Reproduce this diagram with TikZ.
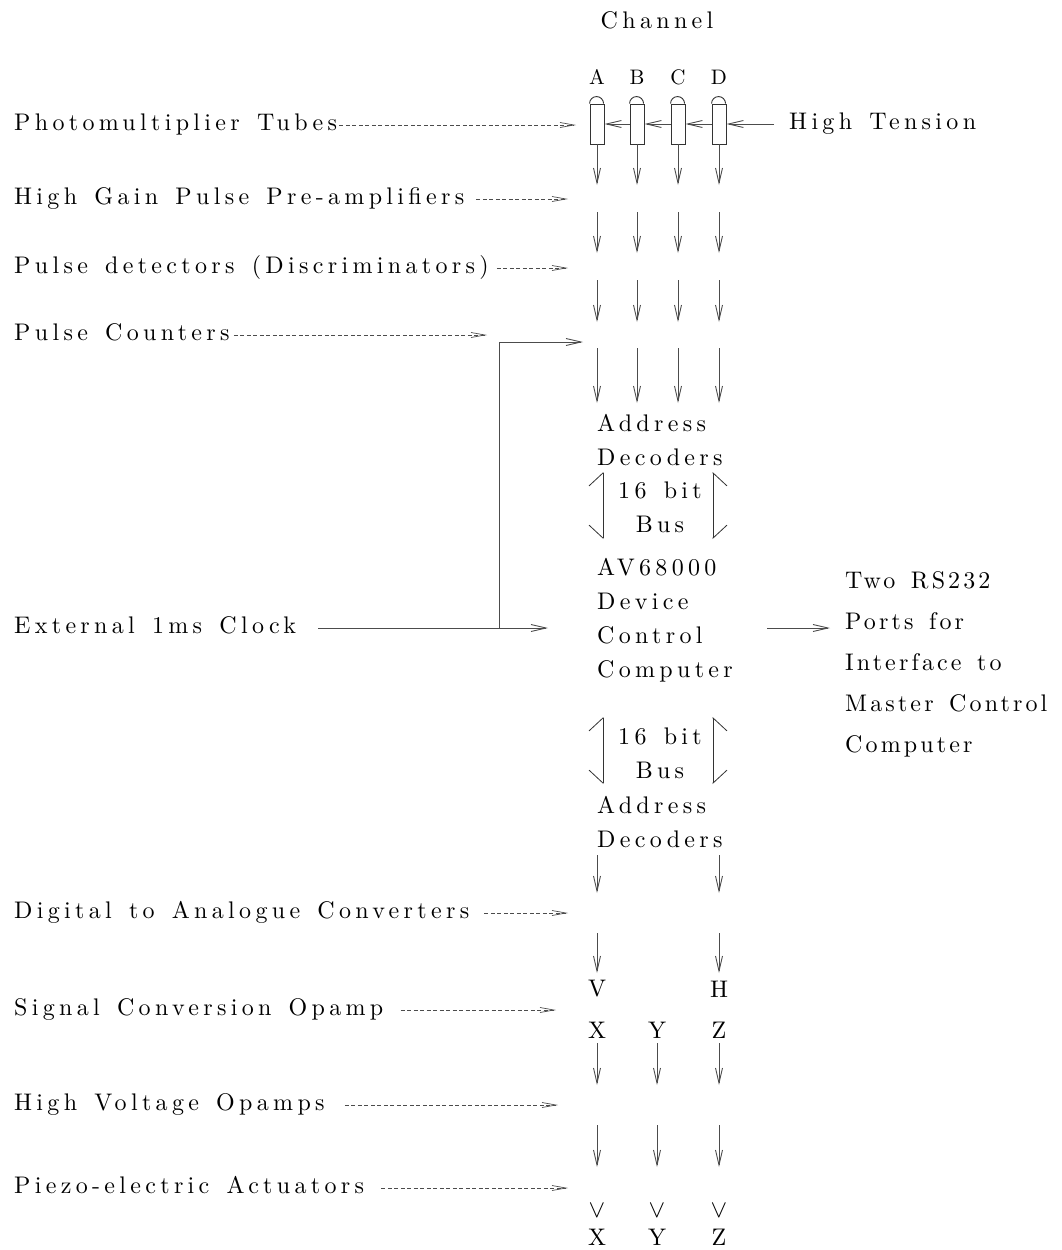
\documentclass[tikz,border=0pt]{standalone}
\usepackage{fontspec}
\setmainfont{lmroman10-regular.otf}[LetterSpace=18, WordSpace=1.4]
\usetikzlibrary{arrows.meta}

\begin{document}
\begin{tikzpicture}[x=1pt, y=-1pt, font={\fontsize{24}{34}\selectfont},
		lbl/.style={anchor=west, inner sep=0pt, text height=10pt, text depth=0pt},
		txt/.style={anchor=north west, inner sep=0pt, align=left},
		ltr/.style={inner sep=0pt},
		sig/.style={draw=black!70, line width=0.9pt, -{Straight Barb[length=15pt,width=7pt]}},
		hint/.style={draw=black!70, line width=0.7pt, dash pattern=on 4pt off 2.5pt, -{Straight Barb[length=14pt,width=5pt]}},
		tube/.style={draw=black!80, line width=0.9pt, minimum width=14pt, minimum height=40pt, inner sep=0pt},
		busl/.style={draw=black!80, line width=0.8pt, {Straight Barb[harpoon,swap,length=13pt,width=28pt]}-{Straight Barb[harpoon,length=13pt,width=28pt]}},
		busr/.style={draw=black!80, line width=0.8pt, {Straight Barb[harpoon,length=13pt,width=28pt]}-{Straight Barb[harpoon,swap,length=13pt,width=28pt]}}]
			\useasboundingbox (0,0) rectangle (1061,1250);
			
			% channels and tubes
			\node[ltr] (chan) at (657,20) {Channel};
			\foreach \n/\x in {A/597,B/637,C/678,D/719} {
				\node[tube] (t\n) at (\x,124) {};
				\draw[black!80, line width=0.9pt] (t\n.north west) arc[start angle=180, end angle=0, radius=7pt];
				\node[ltr, font=\fontsize{21}{24}\selectfont] (c\n) at (\x,77) {\n};
				\coordinate (o\n) at (\x,185);
				\draw[sig] (t\n.south) -- (o\n);
				\foreach \a/\b in {212/253,280/322,348/403}
					\draw[sig] (\x,\a) -- (\x,\b);
			}
			
			% high tension
			\node[lbl] (ht) at (789,124) {High Tension};
			\coordinate (htin) at (774,124);
			\draw[sig] (htin) -- (tD.east);
			\draw[sig] (tD.west) -- (tC.east);
			\draw[sig] (tC.west) -- (tB.east);
			\draw[sig] (tB.west) -- (tA.east);
			
			% stage names on the left
			\foreach \n/\y/\g/\tip/\t in {pmt/125/2/576/Photomultiplier Tubes,
					hga/199/12/568/High Gain Pulse Pre-amplifiers,
					pd/268/8/568/Pulse detectors (Discriminators),
					pc/335/4/487/Pulse Counters,
					dac/913/15/568/Digital to Analogue Converters,
					sco/1010/17/556/Signal Conversion Opamp,
					hvo/1105/20/558/High Voltage Opamps,
					pea/1188/17/568/Piezo-electric Actuators} {
				\node[lbl] (\n) at (14,\y) {\t};
				\coordinate (\n-tip) at (\tip,\y);
				\draw[hint] ([xshift=\g pt]\n.east) -- (\n-tip);
			}
			
			% computer block
			\node[txt] (ad1) at (597,414) {Address\\Decoders};
			\node[ltr, align=center, anchor=north] (bus1) at (660,482) {16 bit\\Bus};
			\node[txt] (cpu) at (597,558) {AV68000\\Device\\Control\\Computer};
			\node[ltr, align=center, anchor=north] (bus2) at (660,728) {16 bit\\Bus};
			\node[txt] (ad2) at (597,796) {Address\\Decoders};
			\node[txt, font={\fontsize{24}{41}\selectfont\addfontfeatures{LetterSpace=13}}] (rs) at (845,571) {Two RS232\\Ports for\\Interface to\\Master Control\\Computer};
			
			\draw[busl] (603,539) -- (603,472);
			\draw[busr] (713,539) -- (713,472);
			\draw[busl] (603,784) -- (603,717);
			\draw[busr] (713,784) -- (713,717);
			
			% clock
			\node[lbl] (clk) at (14,628) {External 1ms Clock};
			\coordinate (cpuin) at (548,628);
			\coordinate (br) at (499,628);
			\coordinate (pcin) at (583,342);
			\draw[sig] ([xshift=22pt]clk.east) -- (cpuin);
			\draw[sig] (br) |- (pcin);
			
			% serial ports
			\coordinate (rsout) at (767,628);
			\coordinate (rsin) at (830,628);
			\draw[sig] (rsout) -- (rsin);
			
			% output side
			\node[ltr] (v) at (597,989) {V};
			\node[ltr] (h) at (719,989) {H};
			\foreach \x in {597,719} {
				\draw[sig] (\x,855) -- (\x,893);
				\draw[sig] (\x,933) -- (\x,973);
			}
			\foreach \n/\x in {X/597,Y/657,Z/719} {
				\node[ltr] (s\n) at (\x,1030) {\n};
				\draw[sig] (\x,1043) -- (\x,1085);
				\draw[sig] (\x,1125) -- (\x,1167);
				\node[ltr] (m\n) at (\x,1211) {$\vee$};
				\node[ltr] (p\n) at (\x,1237) {\n};
			}
		\end{tikzpicture}
\end{document}
